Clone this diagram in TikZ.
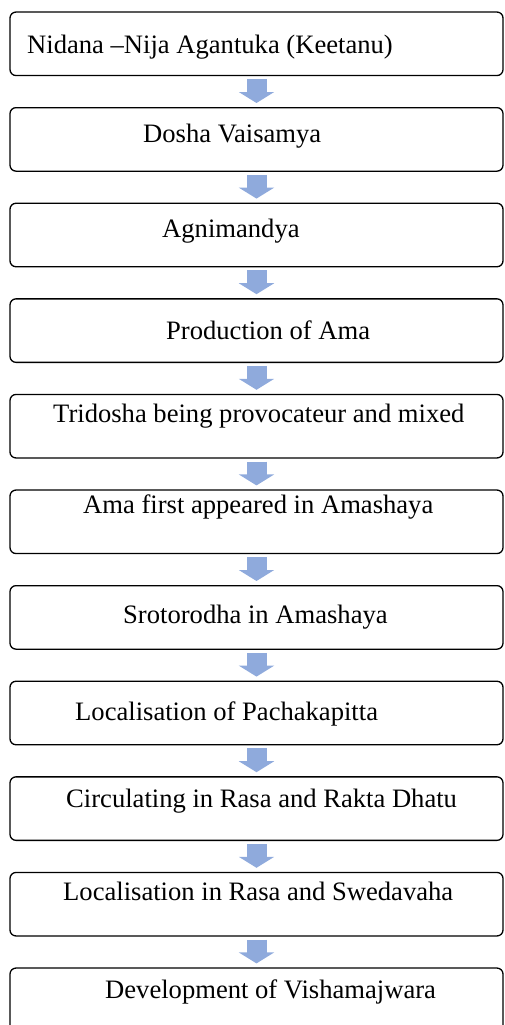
\documentclass[tikz,border=0pt]{standalone}
\usepackage{fontspec}
\setmainfont{Liberation Serif}
\usetikzlibrary{arrows.meta}
\definecolor{flowblue}{RGB}{143,170,220}
\tikzset{
  stage/.style={draw=black, line width=1.3pt, rounded corners=6pt, rectangle, minimum width=493pt, minimum height=63.5pt, inner sep=0pt, fill=none},
  flow/.style={draw=flowblue, line width=20pt, -{Triangle[width=35pt,length=11pt]}, shorten <=3pt, shorten >=4pt},
  caption/.style={font=\fontsize{26.6}{30}\selectfont, anchor=base west, inner sep=0pt}
}

\begin{document}
\begin{tikzpicture}[x=1pt, y=-1pt]
  \useasboundingbox (0,0) rectangle (504,1025);

  \node[stage] (nidana) at (256.5,43.8) {};
  \node[stage] (dosha) at (256.5,139.4) {};
  \node[stage] (agni) at (256.5,235) {};
  \node[stage] (ama) at (256.5,330.6) {};
  \node[stage] (tridosha) at (256.5,426.2) {};
  \node[stage] (amashaya) at (256.5,521.8) {};
  \node[stage] (sroto) at (256.5,617.4) {};
  \node[stage] (pachaka) at (256.5,713) {};
  \node[stage] (rasa) at (256.5,808.6) {};
  \node[stage] (sweda) at (256.5,904.2) {};
  \node[stage] (jwara) at (256.5,999.8) {};

  \node[caption] (tnidana) at (27,53) {Nidana –Nija Agantuka (Keetanu)};
  \node[caption] (tdosha) at (143,142) {Dosha Vaisamya};
  \node[caption] (tagni) at (162,237) {Agnimandya};
  \node[caption] (tama) at (166,339) {Production of Ama};
  \node[caption] (ttridosha) at (53,422) {Tridosha being provocateur and mixed};
  \node[caption] (tamashaya) at (83,513) {Ama first appeared in Amashaya};
  \node[caption] (tsroto) at (123,623) {Srotorodha in Amashaya};
  \node[caption] (tpachaka) at (75,720) {Localisation of Pachakapitta};
  \node[caption] (trasa) at (66,807) {Circulating in Rasa and Rakta Dhatu};
  \node[caption] (tsweda) at (63,900) {Localisation in Rasa and Swedavaha};
  \node[caption] (tjwara) at (105,998) {Development of Vishamajwara};

  \draw[flow] (nidana.south) -- (dosha.north);
  \draw[flow] (dosha.south) -- (agni.north);
  \draw[flow] (agni.south) -- (ama.north);
  \draw[flow] (ama.south) -- (tridosha.north);
  \draw[flow] (tridosha.south) -- (amashaya.north);
  \draw[flow] (amashaya.south) -- (sroto.north);
  \draw[flow] (sroto.south) -- (pachaka.north);
  \draw[flow] (pachaka.south) -- (rasa.north);
  \draw[flow] (rasa.south) -- (sweda.north);
  \draw[flow] (sweda.south) -- (jwara.north);
\end{tikzpicture}
\end{document}
